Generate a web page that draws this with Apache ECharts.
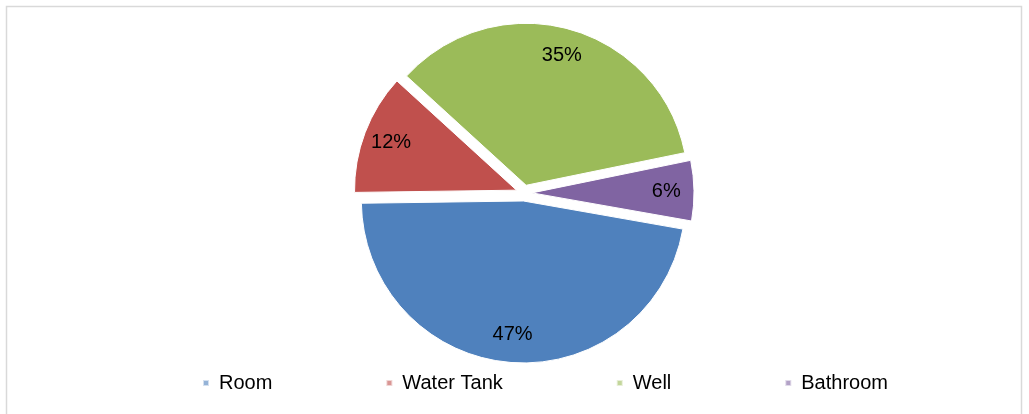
<!DOCTYPE html>
<html>
<head>
<meta charset="utf-8">
<script src="https://cdn.jsdelivr.net/npm/echarts@6/dist/echarts.min.js"></script>
<style>
html,body{margin:0;padding:0;background:#fff;}
#c{width:1029px;height:414px;}
</style>
</head>
<body>
<div id="c"></div>
<script>
var categories = ['Room', 'Water Tank', 'Well', 'Bathroom'];
var values = [47, 12, 35, 6];
var colors = ['#4f81bd', '#c0504d', '#9bbb59', '#8064a2'];

var FONT = '"Liberation Sans", Arial, sans-serif';
var chart = echarts.init(document.getElementById('c'));

function pieData(showColor) {
  return categories.map(function (n, i) {
    return {
      name: n,
      value: values[i],
      selected: true,
      itemStyle: showColor ? { color: colors[i] } : { color: 'rgba(0,0,0,0)' }
    };
  });
}

var center = [524, 193];
var R = 162;

chart.setOption({
  animation: false,
  color: colors,
  graphic: [{
    type: 'rect',
    shape: { x: 6.5, y: 6.5, width: 1015, height: 420 },
    style: { fill: 'none', stroke: '#d9d9d9', lineWidth: 1.5 },
    silent: true
  }],
  legend: {
    data: categories,
    top: 368,
    left: 197,
    icon: 'rect',
    itemWidth: 6,
    itemHeight: 6,
    itemGap: 113,
    itemStyle: { opacity: 0.6 },
    textStyle: { fontFamily: FONT, fontSize: 20, color: '#000', padding: [0, 0, 0, 5] },
    selectedMode: false
  },
  series: [{
    type: 'pie',
    center: center,
    radius: [0, R],
    startAngle: -10,
    clockwise: true,
    selectedMode: 'multiple',
    selectedOffset: 8,
    data: pieData(true),
    label: { show: false },
    labelLine: { show: false },
    itemStyle: { borderColor: '#fff', borderWidth: 1 },
    emphasis: { disabled: true },
    silent: true
  }, {
    type: 'pie',
    center: center,
    radius: [R * 0.62, R],
    startAngle: -10,
    clockwise: true,
    selectedMode: 'multiple',
    selectedOffset: 8,
    data: pieData(false),
    label: {
      show: true,
      position: 'inner',
      formatter: '{c}%',
      fontFamily: FONT,
      fontSize: 20,
      color: '#000'
    },
    labelLine: { show: false },
    emphasis: { disabled: true },
    silent: true
  }]
});
</script>
</body>
</html>
